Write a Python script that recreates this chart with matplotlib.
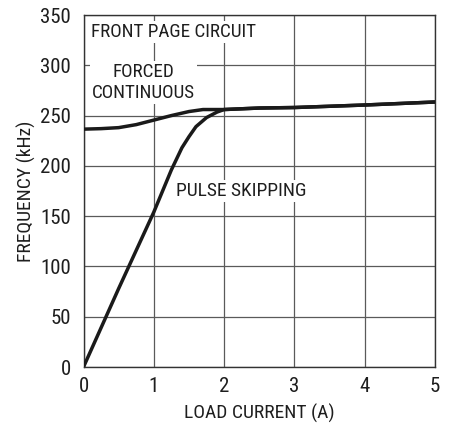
import matplotlib
matplotlib.use("Agg")
import matplotlib.pyplot as plt
from matplotlib import font_manager

names = {f.name for f in font_manager.fontManager.ttflist}
fam = "DejaVu Sans"
for cand in ["Roboto Condensed", "Archivo Narrow", "Liberation Sans Narrow", "Barlow Semi Condensed"]:
    if cand in names:
        fam = cand
        break
plt.rcParams.update({"font.family": fam})

# forced continuous mode
fc_x = [0, 0.25, 0.5, 0.75, 1.0, 1.25, 1.5, 1.7, 2.0, 2.5, 3.0, 4.0, 5.0]
fc_y = [236.5, 237, 238, 241, 245.5, 250, 254, 256, 256, 257.5, 258, 260.5, 263.5]
# pulse skipping mode
ps_x = [0, 0.25, 0.5, 0.75, 1.0, 1.25, 1.4, 1.5, 1.6, 1.75, 1.9, 2.0, 2.5, 3.0, 4.0, 5.0]
ps_y = [0, 39, 78, 116, 154, 196, 218, 229, 239, 248, 253.5, 256, 257.5, 258, 260.5, 263.5]

fig = plt.figure(figsize=(4.53, 4.23), dpi=100)
ax = fig.add_axes([83.5 / 453, 1 - 367 / 423, (435 - 83.5) / 453, (367 - 15) / 423])
ax.set_xlim(0, 5)
ax.set_ylim(0, 350)
ax.set_xticks(range(0, 6))
ax.set_yticks(range(0, 351, 50))
ax.grid(True, color="#5a5a5a", lw=0.9)
ax.set_axisbelow(True)
for s in ax.spines.values():
    s.set_color("#333333")
    s.set_linewidth(1.0)
ax.tick_params(length=0, labelsize=15, colors="#1e1e1e")
ax.tick_params(axis="y", pad=9)
ax.tick_params(axis="x", pad=7)

ax.plot(fc_x, fc_y, color="#1a1a1a", lw=2.5, solid_capstyle="butt", zorder=3)
ax.plot(ps_x, ps_y, color="#1a1a1a", lw=2.5, solid_capstyle="butt", zorder=3)

box = dict(facecolor="white", edgecolor="none", pad=1.5)
ax.text(0.11, 333, "FRONT PAGE CIRCUIT", fontsize=13.8, ha="left", va="center",
        bbox=box, zorder=2, color="#1e1e1e")
ax.text(0.85, 283, "FORCED\nCONTINUOUS", fontsize=13.8, ha="center", va="center",
        linespacing=1.2, bbox=box, zorder=2, color="#1e1e1e")
ax.text(1.32, 175, "PULSE SKIPPING", fontsize=14, ha="left", va="center",
        bbox=box, zorder=2, color="#1e1e1e")

ax.set_xlabel("LOAD CURRENT (A)", fontsize=14, color="#1e1e1e", labelpad=6)
ax.set_ylabel("FREQUENCY (kHz)", fontsize=14, color="#1e1e1e", labelpad=3)

fig.savefig("out.png", dpi=100)
